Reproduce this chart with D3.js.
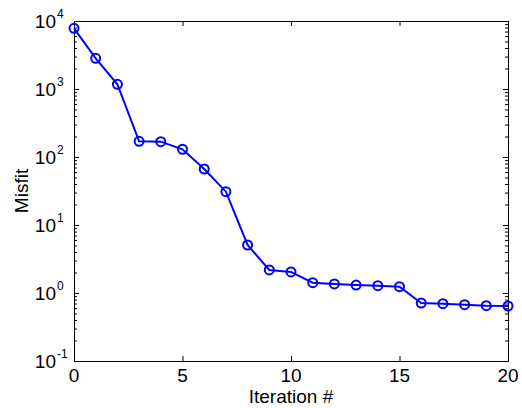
<!DOCTYPE html>
<html>
<head>
<meta charset="utf-8">
<script src="https://cdn.jsdelivr.net/npm/d3@7"></script>
<style>
  html, body { margin: 0; padding: 0; background: #fff; }
  svg { display: block; }
  text { font-family: "Liberation Sans", Arial, Helvetica, sans-serif; fill: #000; }
</style>
</head>
<body>
<svg id="chart" width="522" height="408"></svg>
<script>
// ---- data ----
const iterations = [0,1,2,3,4,5,6,7,8,9,10,11,12,13,14,15,16,17,18,19,20];
const misfit = [7800, 2830, 1170, 170, 168, 130, 66.6, 30.9, 5.08, 2.18, 2.04,
                1.42, 1.36, 1.31, 1.28, 1.24, 0.713, 0.697, 0.673, 0.65, 0.644];
const xTicks = [0, 5, 10, 15, 20];
const yExponents = [-1, 0, 1, 2, 3, 4];
const xLabel = "Iteration #";
const yLabel = "Misfit";

// ---- layout ----
const L = 74, R = 508, T = 21, B = 361;
const svg = d3.select("#chart");
const x = d3.scaleLinear().domain([0, 20]).range([L, R]);
const y = d3.scaleLog().domain([0.1, 1e4]).range([B, T]);

const majorY = yExponents.map(e => Math.pow(10, e));
const minorY = [];
yExponents.slice(0, -1).forEach(e => {
  for (let k = 2; k <= 9; k++) minorY.push(k * Math.pow(10, e));
});

const axG = svg.append("g").attr("stroke", "#000").attr("stroke-width", 1).attr("fill", "none");
// ticks via d3 axes (inward)
function styleAxis(g) {
  g.select(".domain").remove();
  g.selectAll(".tick line").attr("stroke", "#000").attr("stroke-width", 1);
  g.selectAll(".tick text").remove();
}
svg.append("g").attr("transform", `translate(0,${B})`)
  .call(d3.axisBottom(x).tickValues(xTicks).tickSize(-5).tickFormat("")).call(styleAxis);
svg.append("g").attr("transform", `translate(0,${T})`)
  .call(d3.axisTop(x).tickValues(xTicks).tickSize(-5).tickFormat("")).call(styleAxis);
svg.append("g").attr("transform", `translate(${L},0)`)
  .call(d3.axisLeft(y).tickValues(majorY).tickSize(-5).tickFormat("")).call(styleAxis);
svg.append("g").attr("transform", `translate(${R},0)`)
  .call(d3.axisRight(y).tickValues(majorY).tickSize(-5).tickFormat("")).call(styleAxis);
svg.append("g").attr("transform", `translate(${L},0)`)
  .call(d3.axisLeft(y).tickValues(minorY).tickSize(-3).tickFormat("")).call(styleAxis);
svg.append("g").attr("transform", `translate(${R},0)`)
  .call(d3.axisRight(y).tickValues(minorY).tickSize(-3).tickFormat("")).call(styleAxis);

// box
svg.append("rect").attr("x", L + 0.5).attr("y", T + 0.5)
  .attr("width", R - L).attr("height", B - T)
  .attr("fill", "none").attr("stroke", "#000").attr("stroke-width", 1);

// x tick labels
svg.append("g").selectAll("text").data(xTicks).join("text")
  .attr("x", d => x(d)).attr("y", B + 21)
  .attr("text-anchor", "middle").attr("font-size", 19)
  .text(d => d);

// y tick labels 10^e
const yl = svg.append("g").selectAll("g").data(yExponents).join("g")
  .attr("transform", d => `translate(${L - 18},${y(Math.pow(10, d)) + 7})`);
yl.append("text").attr("x", 0).attr("y", 0).attr("text-anchor", "end")
  .attr("font-size", 19).text("10");
yl.append("text").attr("x", 1).attr("y", -10).attr("text-anchor", "start")
  .attr("font-size", 12).text(d => d);

// axis labels
svg.append("text").attr("x", (L + R) / 2).attr("y", 403)
  .attr("text-anchor", "middle").attr("font-size", 19).text(xLabel);
svg.append("text").attr("transform", `translate(28,${(T + B) / 2}) rotate(-90)`)
  .attr("text-anchor", "middle").attr("font-size", 19).text(yLabel);

// line
const line = d3.line().x((d, i) => x(iterations[i])).y(d => y(d));
svg.append("path").datum(misfit).attr("d", line)
  .attr("fill", "none").attr("stroke", "#0000ff").attr("stroke-width", 2);

// markers
svg.append("g").selectAll("circle").data(misfit).join("circle")
  .attr("cx", (d, i) => x(iterations[i])).attr("cy", d => y(d)).attr("r", 4.5)
  .attr("fill", "none").attr("stroke", "#0000ff").attr("stroke-width", 2);
</script>
</body>
</html>
